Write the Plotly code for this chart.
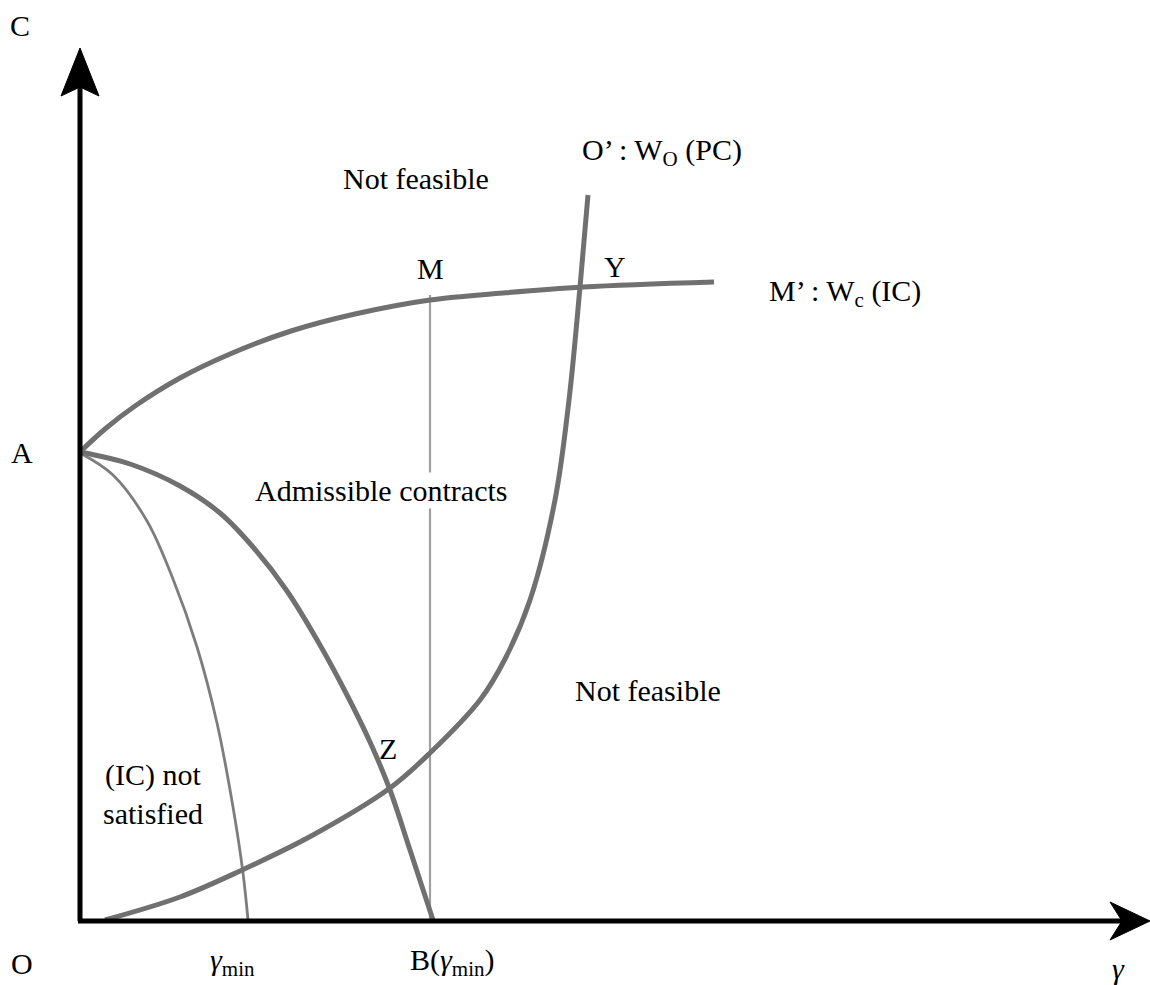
import plotly.graph_objects as go

# ---- data (units: gamma on x, C on y; origin O at axes corner) ----
ic_x = [0, 25, 55, 100, 150, 211, 275, 350, 423, 503, 634]
ic_y = [469, 492, 515, 543, 567, 590, 607, 621, 628, 634, 639]

pc_x = [25, 100, 160, 233, 310, 350, 400, 425, 450, 475, 489, 500, 508]
pc_y = [1, 24, 50, 86, 133, 168, 221, 262, 321, 421, 521, 634, 726]

ab_x = [0, 50, 100, 140, 173, 207, 240, 267, 290, 310, 330, 353]
ab_y = [469, 457, 435, 408, 374, 330, 276, 226, 179, 131, 71, 1]

gmin_x = [0, 33, 67, 93, 117, 137, 153, 163, 168]
gmin_y = [468, 446, 400, 342, 274, 198, 114, 48, 1]

m_x = [350, 350]
m_y = [1, 626]

# axis extents
x_axis_end = 1070
y_axis_end = 873

label_text = ["C", "A", "O", "<i>γ</i><sub>min</sub>", "B(<i>γ</i><sub>min</sub>)", "<i>γ</i>",
              "Not feasible", "M", "O’ : W<sub>O</sub> (PC)", "Y", "M’ : W<sub>c</sub> (IC)",
              "Admissible contracts", "Not feasible", "Z", "(IC) not<br>satisfied"]
label_x = [-60, -58, -58, 152, 372, 1038, 336, 350, 582, 535, 765, 301, 568, 308, 73]
label_y = [896, 469, -42, -41, -41, -47, 743, 653, 769, 655, 628, 431, 231, 173, 127]

FONT = "Liberation Serif"
THICK = "rgb(112,112,112)"

fig = go.Figure()

fig.add_trace(go.Scatter(x=m_x, y=m_y, mode="lines",
                         line=dict(color="rgb(160,160,160)", width=2.2)))
fig.add_trace(go.Scatter(x=gmin_x, y=gmin_y, mode="lines", line_shape="spline",
                         line=dict(color="rgb(125,125,125)", width=2.8)))
for xs, ys in [(ic_x, ic_y), (pc_x, pc_y), (ab_x, ab_y)]:
    fig.add_trace(go.Scatter(x=xs, y=ys, mode="lines", line_shape="spline",
                             line=dict(color=THICK, width=5)))

# axes
head_len_y, head_half_y, notch_y = 48, 19, 39
head_len_x, head_half_x, notch_x = 40, 19, 28
fig.add_trace(go.Scatter(x=[0, 0], y=[0, y_axis_end - notch_y], mode="lines",
                         line=dict(color="black", width=5)))
fig.add_trace(go.Scatter(x=[-2, x_axis_end - notch_x], y=[0, 0], mode="lines",
                         line=dict(color="black", width=5)))
fig.add_trace(go.Scatter(
    x=[0, -head_half_y, 0, head_half_y, 0],
    y=[y_axis_end, y_axis_end - head_len_y, y_axis_end - notch_y, y_axis_end - head_len_y, y_axis_end],
    mode="lines", fill="toself", fillcolor="black", line=dict(color="black", width=1)))
fig.add_trace(go.Scatter(
    x=[x_axis_end, x_axis_end - head_len_x, x_axis_end - notch_x, x_axis_end - head_len_x, x_axis_end],
    y=[0, head_half_x, 0, -head_half_x, 0],
    mode="lines", fill="toself", fillcolor="black", line=dict(color="black", width=1)))

for t, x, y in zip(label_text, label_x, label_y):
    fig.add_annotation(x=x, y=y, text=t, showarrow=False, xref="x", yref="y",
                       xanchor="center", yanchor="middle",
                       font=dict(family=FONT, size=30, color="black"),
                       bgcolor="white" if t == "Admissible contracts" else None)

fig.update_layout(
    width=1150, height=985, margin=dict(l=0, r=0, t=0, b=0),
    plot_bgcolor="white", paper_bgcolor="white", showlegend=False,
    hovermode=False,
    xaxis=dict(range=[-80, 1070], visible=False, showgrid=False, zeroline=False),
    yaxis=dict(range=[-64, 921], visible=False, showgrid=False, zeroline=False),
)

fig.write_html("out.html", include_plotlyjs=True,
               config={"displayModeBar": False},
               post_script="document.body.style.margin='0px';")
